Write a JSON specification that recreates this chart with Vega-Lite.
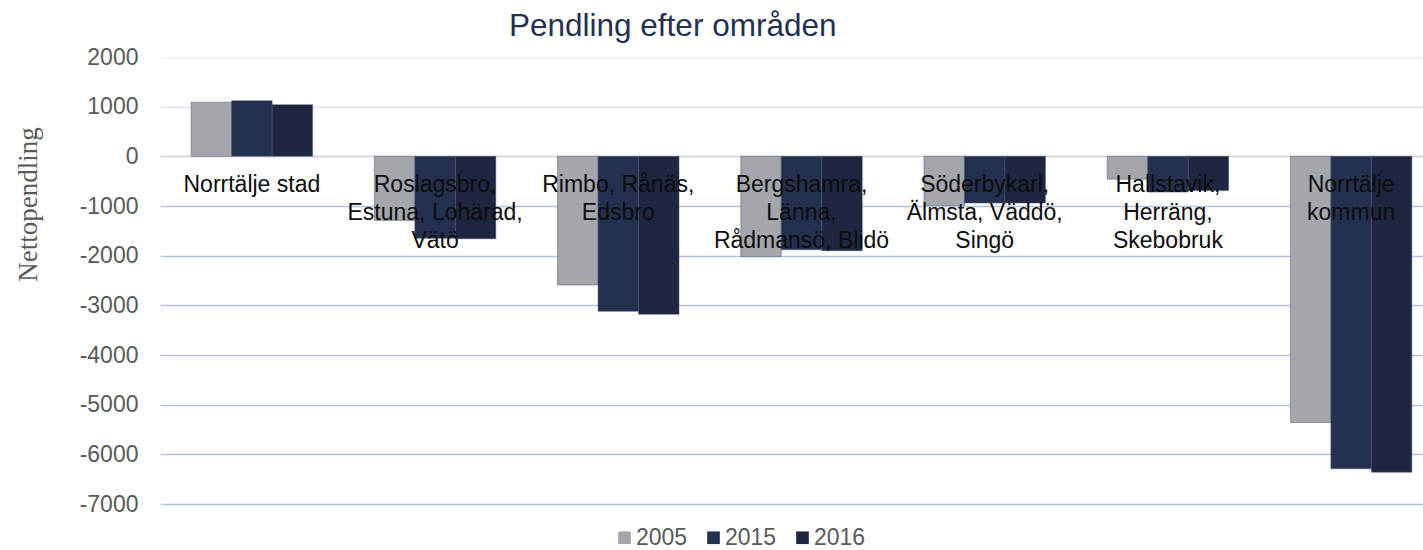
{
  "$schema": "https://vega.github.io/schema/vega-lite/v6.json",
  "autosize": "none",
  "padding": {"left": 160, "top": 57, "right": 0, "bottom": 46},
  "width": 1283,
  "height": 447,
  "background": "white",
  "config": {"view": {"stroke": null}},
  "title": {
    "text": "Pendling efter områden",
    "font": "Liberation Sans",
    "fontSize": 31.5,
    "fontWeight": "normal",
    "color": "#243050",
    "anchor": "start",
    "dx": 495
  },
  "datasets": {
    "d": [
      {"omrade": "Norrtälje stad", "year": "2005", "value": 1090},
      {"omrade": "Norrtälje stad", "year": "2015", "value": 1120},
      {"omrade": "Norrtälje stad", "year": "2016", "value": 1040},
      {"omrade": "Roslagsbro,\nEstuna, Lohärad,\nVätö", "year": "2005", "value": -1290},
      {"omrade": "Roslagsbro,\nEstuna, Lohärad,\nVätö", "year": "2015", "value": -1650},
      {"omrade": "Roslagsbro,\nEstuna, Lohärad,\nVätö", "year": "2016", "value": -1660},
      {"omrade": "Rimbo, Rånäs,\nEdsbro", "year": "2005", "value": -2590},
      {"omrade": "Rimbo, Rånäs,\nEdsbro", "year": "2015", "value": -3120},
      {"omrade": "Rimbo, Rånäs,\nEdsbro", "year": "2016", "value": -3180},
      {"omrade": "Bergshamra,\nLänna,\nRådmansö, Blidö", "year": "2005", "value": -2020},
      {"omrade": "Bergshamra,\nLänna,\nRådmansö, Blidö", "year": "2015", "value": -1880},
      {"omrade": "Bergshamra,\nLänna,\nRådmansö, Blidö", "year": "2016", "value": -1900},
      {"omrade": "Söderbykarl,\nÄlmsta, Väddö,\nSingö", "year": "2005", "value": -990},
      {"omrade": "Söderbykarl,\nÄlmsta, Väddö,\nSingö", "year": "2015", "value": -940},
      {"omrade": "Söderbykarl,\nÄlmsta, Väddö,\nSingö", "year": "2016", "value": -940},
      {"omrade": "Hallstavik,\nHerräng,\nSkebobruk", "year": "2005", "value": -460},
      {"omrade": "Hallstavik,\nHerräng,\nSkebobruk", "year": "2015", "value": -720},
      {"omrade": "Hallstavik,\nHerräng,\nSkebobruk", "year": "2016", "value": -690},
      {"omrade": "Norrtälje\nkommun", "year": "2005", "value": -5360},
      {"omrade": "Norrtälje\nkommun", "year": "2015", "value": -6290},
      {"omrade": "Norrtälje\nkommun", "year": "2016", "value": -6360}
    ],
    "lab": [
      {"omrade": "Norrtälje stad"},
      {"omrade": "Roslagsbro,\nEstuna, Lohärad,\nVätö"},
      {"omrade": "Rimbo, Rånäs,\nEdsbro"},
      {"omrade": "Bergshamra,\nLänna,\nRådmansö, Blidö"},
      {"omrade": "Söderbykarl,\nÄlmsta, Väddö,\nSingö"},
      {"omrade": "Hallstavik,\nHerräng,\nSkebobruk"},
      {"omrade": "Norrtälje\nkommun"}
    ]
  },
  "layer": [
    {
      "data": {"name": "d"},
      "mark": {"type": "bar", "stroke": "#4a5572", "strokeWidth": 0.5},
      "encoding": {
        "x": {
          "field": "omrade",
          "type": "nominal",
          "sort": null,
          "scale": {"paddingInner": 0.337, "paddingOuter": 0.17},
          "axis": null
        },
        "xOffset": {"field": "year", "type": "nominal"},
        "y": {
          "field": "value",
          "type": "quantitative",
          "scale": {"domain": [-7000, 2000], "nice": false, "zero": false},
          "axis": {
            "values": [2000, 1000, 0, -1000, -2000, -3000, -4000, -5000, -6000, -7000],
            "labelExpr": "'' + datum.value",
            "grid": true,
            "gridColor": {
              "condition": [
                {"test": "datum.value === 0", "value": "#d9d9d9"},
                {"test": "datum.value === 2000", "value": "#eef0f7"},
                {"test": "datum.value === 1000", "value": "#dde3f0"}
              ],
              "value": "#b4c2e0"
            },
            "gridWidth": {
              "condition": {"test": "datum.value === 0", "value": 2},
              "value": 1.5
            },
            "domain": false,
            "ticks": false,
            "labelFont": "Liberation Sans",
            "labelFontSize": 23,
            "labelColor": "#595959",
            "labelPadding": 22,
            "title": "Nettopendling",
            "titleFont": "Liberation Serif",
            "titleFontSize": 27,
            "titleFontWeight": "normal",
            "titleColor": "#595959",
            "titleAngle": -90,
            "titleBaseline": "alphabetic",
            "titleAlign": "center",
            "titleX": -124,
            "titleY": 147
          }
        },
        "color": {
          "field": "year",
          "type": "nominal",
          "scale": {"domain": ["2005", "2015", "2016"], "range": ["#a5a6ab", "#243050", "#1e2641"]},
          "legend": {
            "orient": "none",
            "legendX": 453,
            "legendY": 469,
            "direction": "horizontal",
            "title": null,
            "symbolType": "square",
            "symbolSize": 160,
            "symbolStrokeWidth": 0,
            "labelFont": "Liberation Sans",
            "labelFontSize": 23,
            "labelColor": "#595959",
            "labelOffset": 0,
            "columnPadding": 14
          }
        }
      }
    },
    {
      "data": {"name": "lab"},
      "mark": {
        "type": "text",
        "lineBreak": "\n",
        "font": "Liberation Sans",
        "fontSize": 23,
        "color": "#0d0d0d",
        "baseline": "alphabetic",
        "align": "center",
        "dy": 36,
        "lineHeight": 28
      },
      "encoding": {
        "x": {"field": "omrade", "type": "nominal", "sort": null},
        "y": {"datum": 0},
        "text": {"field": "omrade"}
      }
    }
  ]
}
